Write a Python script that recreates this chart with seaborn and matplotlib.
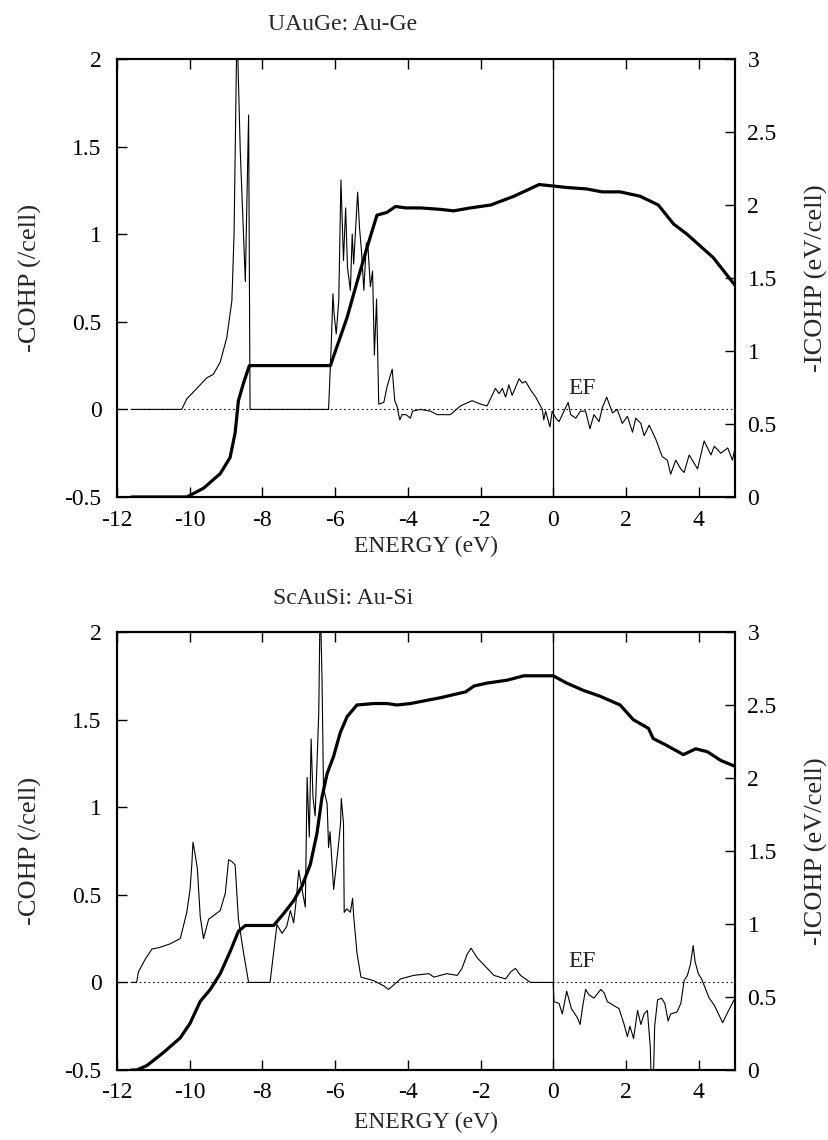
import numpy as np
import pandas as pd
import seaborn as sns
import matplotlib
matplotlib.use("Agg")
import matplotlib.pyplot as plt

# ------------------------------------------------------------------
# COHP / ICOHP curves
# ------------------------------------------------------------------
# UAuGe: Au-Ge, -COHP (thin line, left axis)
uauge_cohp_e = [-11.6, -10.22, -10.08, -9.53, -9.35, -9.16, -8.98, -8.84, -8.78, -8.70,
                -8.61, -8.47, -8.38, -8.34, -6.18, -6.11, -6.06, -6.03, -5.97, -5.90,
                -5.84, -5.77, -5.71, -5.66, -5.58, -5.53, -5.49, -5.38, -5.33, -5.27,
                -5.21, -5.14, -5.10, -5.03, -4.97, -4.92, -4.86, -4.80, -4.66, -4.57,
                -4.43, -4.36, -4.30, -4.22, -4.16, -4.05, -3.93, -3.87, -3.65, -3.38,
                -3.19, -2.83, -2.55, -2.23,
                -2.0, -1.82, -1.59, -1.49, -1.40, -1.31, -1.22, -1.13, -0.94, -0.85,
                -0.76, -0.62, -0.48, -0.30, -0.26, -0.21, -0.09, -0.03, 0.07, 0.16,
                0.25, 0.41, 0.48, 0.62, 0.75, 0.89, 1.01, 1.12, 1.26, 1.35,
                1.47, 1.63, 1.76, 1.90, 2.04, 2.18, 2.27, 2.41, 2.50, 2.64,
                2.82, 3.00, 3.14, 3.23, 3.37, 3.51, 3.60, 3.74, 3.97, 4.15,
                4.34, 4.43, 4.61, 4.80, 4.93, 5.0]
uauge_cohp_v = [0, 0, 0.06, 0.18, 0.2, 0.27, 0.41, 0.62, 1.0, 2.2,
                1.48, 0.73, 1.68, 0, 0, 0.35, 0.66, 0.55, 0.43, 0.62,
                1.31, 0.85, 1.15, 0.81, 0.68, 1.0, 0.83, 1.24, 1.04, 0.89,
                0.68, 0.95, 0.94, 0.70, 0.79, 0.31, 0.63, 0.03, 0.04, 0.13,
                0.23, 0.05, 0.02, -0.06, -0.03, -0.03, -0.05, -0.01, 0.0, -0.01,
                -0.03, -0.03, 0.02, 0.05,
                0.03, 0.02, 0.12, 0.09, 0.12, 0.07, 0.14, 0.08, 0.175, 0.15,
                0.16, 0.11, 0.07, 0.0, -0.06, -0.01, -0.10, -0.01, -0.05, -0.07,
                -0.03, 0.04, -0.03, -0.05, -0.01, -0.01, -0.11, -0.03, -0.07, 0.01,
                0.07, -0.02, 0.0, -0.08, -0.04, -0.13, -0.05, -0.08, -0.15, -0.09,
                -0.17, -0.27, -0.29, -0.37, -0.29, -0.34, -0.36, -0.26, -0.34, -0.18,
                -0.26, -0.21, -0.25, -0.22, -0.29, -0.22]

# UAuGe: Au-Ge, -ICOHP (thick line, right axis)
uauge_icohp_e = [-11.6, -10.08, -9.62, -9.16, -8.89, -8.75, -8.66, -8.52, -8.36, -6.13,
                 -5.95, -5.67, -5.40, -5.12, -4.85, -4.57, -4.34, -4.05, -3.65, -3.10,
                 -2.74, -2.28, -1.72, -1.08, -0.39, 0.0, 0.37, 0.92, 1.34, 1.84,
                 2.39, 2.89, 3.31, 3.68, 4.04, 4.40, 5.0]
uauge_icohp_v = [0, 0, 0.06, 0.16, 0.27, 0.44, 0.66, 0.78, 0.90, 0.90,
                 1.03, 1.23, 1.47, 1.71, 1.93, 1.95, 1.99, 1.98, 1.98, 1.97,
                 1.96, 1.98, 2.0, 2.06, 2.14, 2.13, 2.12, 2.11, 2.09, 2.09,
                 2.06, 2.0, 1.87, 1.80, 1.72, 1.64, 1.45]

# ScAuSi: Au-Si, -COHP
scausi_cohp_e = [-11.6, -11.46, -11.41, -11.23, -11.04, -10.82, -10.54, -10.26, -10.08, -9.99,
                 -9.94, -9.91, -9.85, -9.79, -9.71, -9.62, -9.48, -9.35, -9.16, -9.02,
                 -8.93, -8.84, -8.75, -8.66, -8.52, -8.38, -7.79, -7.60, -7.46, -7.33,
                 -7.23, -7.14, -7.07, -7.00, -6.91, -6.82, -6.77, -6.71, -6.66, -6.61,
                 -6.55, -6.45, -6.41, -6.36, -6.32, -6.22, -6.18, -6.14, -6.04, -5.90,
                 -5.85, -5.83, -5.77, -5.75, -5.68, -5.58, -5.52, -5.49, -5.40, -5.29,
                 -4.94, -4.66, -4.53, -4.39, -4.20, -3.84,
                 -3.42, -3.28, -2.93, -2.64, -2.51, -2.37, -2.26, -2.09, -1.86, -1.63,
                 -1.31, -1.17, -1.04, -0.90, -0.63, 0.0,
                 0.02, 0.16, 0.25, 0.37, 0.50, 0.66, 0.74, 0.80, 0.89, 0.98,
                 1.12, 1.31, 1.40, 1.49, 1.81, 1.95, 2.04, 2.11, 2.21, 2.32,
                 2.41, 2.50, 2.59, 2.67, 2.70, 2.75, 2.79, 2.87, 2.98, 3.07,
                 3.16, 3.23, 3.40, 3.51, 3.60, 3.69, 3.77, 3.85, 3.90, 3.99,
                 4.08, 4.29, 4.43, 4.66, 4.80, 5.0]
scausi_cohp_v = [0, 0, 0.06, 0.13, 0.19, 0.20, 0.22, 0.25, 0.40, 0.53,
                 0.68, 0.80, 0.73, 0.65, 0.375, 0.25, 0.36, 0.38, 0.41, 0.51,
                 0.70, 0.69, 0.67, 0.36, 0.17, 0, 0, 0.33, 0.28, 0.32,
                 0.41, 0.34, 0.47, 0.64, 0.53, 0.43, 1.17, 0.83, 1.39, 1.06,
                 0.95, 1.54, 2.2, 1.73, 1.11, 1.02, 0.77, 0.86, 0.53, 0.80,
                 0.91, 1.05, 0.91, 0.40, 0.42, 0.40, 0.48, 0.38, 0.17, 0.03,
                 0.01, -0.02, -0.04, -0.015, 0.02, 0.04,
                 0.05, 0.03, 0.05, 0.04, 0.08, 0.16, 0.195, 0.14, 0.09, 0.04,
                 0.02, 0.06, 0.08, 0.04, 0.0, 0.0,
                 -0.11, -0.12, -0.18, -0.05, -0.15, -0.20, -0.24, -0.15, -0.04, -0.07,
                 -0.09, -0.04, -0.06, -0.11, -0.15, -0.24, -0.31, -0.25, -0.32, -0.16,
                 -0.24, -0.18, -0.16, -0.37, -0.6, -0.6, -0.25, -0.10, -0.09, -0.12,
                 -0.22, -0.18, -0.17, -0.12, 0.01, 0.04, 0.10, 0.21, 0.12, 0.05,
                 0.02, -0.09, -0.13, -0.23, -0.17, -0.09]

# ScAuSi: Au-Si, -ICOHP
scausi_icohp_e = [-11.6, -11.46, -11.18, -10.72, -10.26, -9.99, -9.71, -9.44, -9.16, -8.89,
                  -8.66, -8.47, -7.69, -7.42, -7.14, -6.91, -6.68, -6.50, -6.36, -6.22,
                  -6.04, -5.86, -5.67, -5.40, -4.94, -4.57, -4.30, -3.93, -3.10, -2.41,
                  -2.18, -1.82, -1.27, -0.81, 0.0, 0.37, 0.83, 1.29, 1.84, 2.20,
                  2.62, 2.75, 3.07, 3.58, 3.92, 4.24, 4.61, 5.0]
scausi_icohp_v = [0, 0, 0.03, 0.12, 0.22, 0.32, 0.47, 0.55, 0.66, 0.81,
                  0.95, 0.99, 0.99, 1.07, 1.16, 1.26, 1.41, 1.62, 1.87, 2.03,
                  2.15, 2.31, 2.42, 2.50, 2.51, 2.51, 2.50, 2.51, 2.55, 2.59,
                  2.63, 2.65, 2.67, 2.70, 2.70, 2.65, 2.60, 2.56, 2.50, 2.40,
                  2.34, 2.27, 2.23, 2.16, 2.20, 2.18, 2.12, 2.08]

titles = ["UAuGe: Au-Ge", "ScAuSi: Au-Si"]
x_ticks = [-12, -10, -8, -6, -4, -2, 0, 2, 4]
x_ticklabels = ["-12", "-10", "-8", "-6", "-4", "-2", "0", "2", "4"]
y_ticks = [-0.5, 0, 0.5, 1, 1.5, 2]
y_ticklabels = ["-0.5", "0", "0.5", "1", "1.5", "2"]
y2_ticks = [0, 0.5, 1, 1.5, 2, 2.5, 3]
y2_ticklabels = ["0", "0.5", "1", "1.5", "2", "2.5", "3"]

# ------------------------------------------------------------------
# Figure setup (gnuplot-like look)
# ------------------------------------------------------------------
sns.set_theme(style="ticks")
plt.rcParams['font.family'] = ['Liberation Serif', 'DejaVu Serif']
plt.rcParams['axes.unicode_minus'] = False

W, H = 829, 1140
fig = plt.figure(figsize=(W / 100, H / 100), dpi=100)

FS = 17
LFS = 19
panels = [
    (uauge_cohp_e, uauge_cohp_v, uauge_icohp_e, uauge_icohp_v, 59, 497, 25, 546),
    (scausi_cohp_e, scausi_cohp_v, scausi_icohp_e, scausi_icohp_v, 632, 1070, 598, 1122),
]
left_px, right_px = 117, 735

for i, (ce, cv, ie, iv, top_px, bot_px, title_y, xlab_y) in enumerate(panels):
    ax = fig.add_axes([left_px / W, 1 - bot_px / H,
                       (right_px - left_px) / W, (bot_px - top_px) / H])
    ax2 = ax.twinx()

    ax.axhline(0, color='black', lw=0.8, ls=(0, (1.5, 2.5)), zorder=1)
    ax.axvline(0, color='black', lw=0.9, zorder=1)

    sns.lineplot(x=ce, y=cv, ax=ax, color='black', lw=0.8,
                 estimator=None, sort=False)
    sns.lineplot(x=ie, y=iv, ax=ax2, color='black', lw=2.3,
                 estimator=None, sort=False)

    ax.set_xlim(-12, 5)
    ax.set_ylim(-0.5, 2)
    ax2.set_ylim(0, 3)

    ax.set_xticks(x_ticks, x_ticklabels)
    ax.set_yticks(y_ticks, y_ticklabels)
    ax2.set_yticks(y2_ticks, y2_ticklabels)

    ax.tick_params(axis='x', direction='in', top=True, bottom=True,
                   length=7, width=1, pad=9, labelsize=FS, colors='black')
    ax.tick_params(axis='y', direction='in', left=True, right=False,
                   length=7, width=1, pad=11, labelsize=FS, colors='black')
    ax2.tick_params(axis='y', direction='in', length=7, width=1, pad=9,
                    labelsize=FS, colors='black')

    ax.set_xlabel("")
    ax.set_ylabel("")
    ax2.set_ylabel("")
    for a in (ax, ax2):
        for s in a.spines.values():
            s.set_linewidth(1.5)
            s.set_color('black')

    ax.text(0.42, 0.12, "EF", fontsize=FS, ha='left', va='center')

    fig.text(343 / W, 1 - title_y / H, titles[i], fontsize=FS,
             ha='center', va='center')
    fig.text(426 / W, 1 - xlab_y / H, "ENERGY (eV)", fontsize=FS,
             ha='center', va='center')
    mid = (top_px + bot_px) / 2
    fig.text(30 / W, 1 - mid / H, "-COHP (/cell)", fontsize=LFS,
             rotation=90, ha='center', va='center')
    fig.text(816 / W, 1 - mid / H, "-ICOHP (eV/cell)", fontsize=LFS,
             rotation=90, ha='center', va='center')

fig.savefig("out.png", dpi=100)
